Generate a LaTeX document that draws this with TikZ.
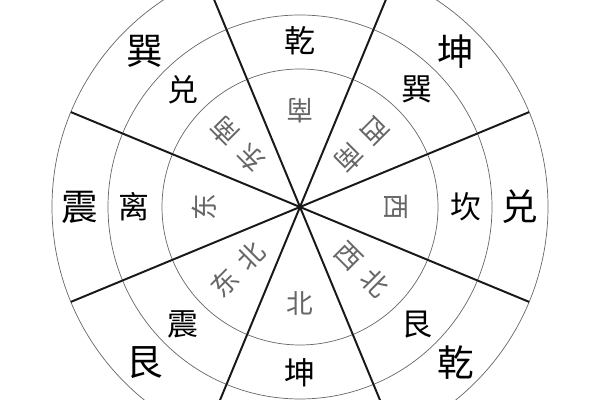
\documentclass[tikz,border=0pt]{standalone}
\usepackage{fontspec}
\newfontfamily\cjk{Noto Sans CJK SC}
\usepackage{tikz}
\usetikzlibrary{calc, positioning}
\tikzset{
ring/.style={draw=black!60, line width=0.5pt},
spoke/.style={draw=black!90, line width=1.4pt},
outer gua/.style={font=\cjk\fontsize{26}{26}\selectfont, text=black, inner sep=0pt},
middle gua/.style={font=\cjk\fontsize{22}{22}\selectfont, text=black, inner sep=0pt},
direction/.style={font=\cjk\fontsize{19}{19}\selectfont, text=black!60, inner sep=0pt},
}
\newcommand{\dirgap}{\hspace{0.4em}}

\begin{document}
\begin{tikzpicture}
    \useasboundingbox (0,0) rectangle (15,10);
    \clip (0,0) rectangle (15,10);
    \coordinate (O) at (7.5,4.825);
    % three rings
    \foreach \r in {3.45, 4.8, 6.2}
        \draw[ring] (O) circle (\r);
    % eight spokes
    \foreach \a [count=\i] in {22.5,67.5,...,337.5} {
        \path (O) ++(\a:6.2) coordinate (s\i);
        \draw[spoke] (O) -- (s\i);
    }
    % outer ring
    \foreach \a/\t [count=\i] in {45/坤, 0/兑, -45/乾, -135/艮, 180/震, 135/巽}
        \node[outer gua] (o\i) at ($(O)+(\a:5.5)$) {\t};
    % middle ring
    \foreach \a/\t [count=\i] in {90/乾, 45/巽, 0/坎, -45/艮, -90/坤, -135/震, 180/离, 135/兑}
        \node[middle gua] (m\i) at ($(O)+(\a:4.15)$) {\t};
    % inner ring, directions
    \foreach \a/\r/\t [count=\i] in {90/2.4/南, 45/2.2/西\dirgap 南, 0/2.4/西, -45/2.2/西\dirgap 北,
                                     -90/2.4/北, -135/2.2/东\dirgap 北, 180/2.4/东, 135/2.2/东\dirgap 南}
        \node[direction, rotate={270-\a}] (d\i) at ($(O)+(\a:\r)$) {\t};
\end{tikzpicture}
\end{document}
